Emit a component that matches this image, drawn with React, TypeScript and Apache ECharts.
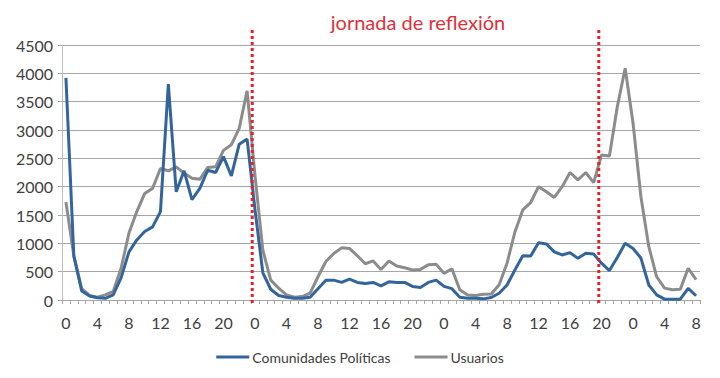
import React, { useEffect, useRef } from "react";
import * as echarts from "echarts";

const hours = [
  "0","1","2","3","4","5","6","7","8","9","10","11","12","13","14","15","16","17","18","19","20","21","22","23",
  "0","1","2","3","4","5","6","7","8","9","10","11","12","13","14","15","16","17","18","19","20","21","22","23",
  "0","1","2","3","4","5","6","7","8","9","10","11","12","13","14","15","16","17","18","19","20","21","22","23",
  "0","1","2","3","4","5","6","7","8",
];

const comunidades = [
  3920, 780, 160, 70, 40, 30, 90, 390, 850, 1060, 1210, 1290, 1560, 3810, 1910, 2280, 1770, 1970, 2290, 2250, 2530, 2190, 2750, 2840,
  1600, 480, 190, 80, 50, 30, 30, 50, 200, 350, 350, 310, 370, 310, 290, 310, 250, 320, 310, 310, 240, 220, 310, 350,
  240, 200, 50, 30, 30, 20, 45, 120, 265, 530, 780, 775, 1010, 990, 850, 795, 835, 735, 825, 810, 650, 520, 750, 1000,
  910, 740, 265, 90, 15, 15, 15, 205, 75,
];

const usuarios = [
  1730, 780, 200, 80, 50, 90, 150, 560, 1180, 1560, 1880, 1970, 2320, 2280, 2350, 2240, 2150, 2130, 2340, 2350, 2640, 2740, 3030, 3690,
  2200, 880, 350, 210, 90, 50, 60, 120, 410, 680, 820, 920, 910, 780, 640, 690, 540, 690, 600, 570, 530, 540, 620, 630,
  470, 550, 180, 90, 80, 100, 105, 270, 650, 1200, 1590, 1720, 2000, 1910, 1810, 2000, 2250, 2120, 2250, 2070, 2560, 2540, 3410, 4090,
  3120, 1820, 940, 410, 210, 180, 190, 560, 360,
];

const markerIdx = [24, 68];
const seriesNames = ["Comunidades Políticas", "Usuarios"];
const annotation = "jornada de reflexión";

const FONT = "Lato, 'Open Sans', sans-serif";

export default function App() {
  const ref = useRef<HTMLDivElement>(null);
  useEffect(() => {
    const chart = echarts.init(ref.current!, null, { renderer: "svg" });
    chart.setOption({
      animation: false,
      backgroundColor: "#ffffff",
      textStyle: { fontFamily: FONT },
      grid: { left: 62, right: 20, top: 45, bottom: 78, containLabel: false },
      legend: {
        data: seriesNames,
        bottom: 9,
        left: "center",
        icon: "rect",
        itemWidth: 33,
        itemHeight: 3,
        itemGap: 24,
        textStyle: { fontFamily: FONT, fontSize: 14, color: "#404040", padding: [0, 0, 0, -2] },
      },
      xAxis: {
        type: "category",
        data: hours,
        boundaryGap: true,
        axisLine: { show: true, lineStyle: { color: "#a6a6a6", width: 1 } },
        axisTick: { show: true, interval: 0, length: 4, lineStyle: { color: "#a6a6a6" } },
        axisLabel: { interval: 3, margin: 14, fontSize: 16, color: "#404040", fontFamily: FONT },
        splitLine: { show: false },
      },
      yAxis: {
        type: "value",
        min: 0,
        max: 4500,
        interval: 500,
        axisLine: { show: true, lineStyle: { color: "#bfbfbf", width: 1 } },
        axisTick: { show: true, length: 4, lineStyle: { color: "#a6a6a6" } },
        axisLabel: {
          margin: 9,
          fontSize: 16,
          color: "#404040",
          fontFamily: FONT,
          formatter: (v: number) => String(v),
        },
        splitLine: { show: true, lineStyle: { color: "#a6a6a6", width: 1 } },
      },
      graphic: [
        {
          type: "text",
          x: 418,
          y: 22,
          style: {
            text: annotation,
            fill: "#e0303a",
            font: `20px ${FONT}`,
            textAlign: "center",
            textVerticalAlign: "middle",
          },
        },
      ],
      series: [
        {
          name: seriesNames[1],
          type: "line",
          data: usuarios,
          symbol: "none",
          lineStyle: { color: "#8c8c8c", width: 3 },
          itemStyle: { color: "#8c8c8c" },
          z: 2,
        },
        {
          name: seriesNames[0],
          type: "line",
          data: comunidades,
          symbol: "none",
          lineStyle: { color: "#33659c", width: 3 },
          itemStyle: { color: "#33659c" },
          z: 3,
        },
        {
          name: "marcas",
          type: "custom",
          z: 5,
          clip: false,
          data: markerIdx.map((i) => [i, 0]),
          encode: { x: 0, y: 1 },
          renderItem: (params: any, api: any) => {
            const p = api.coord([api.value(0), 0]);
            const bw = api.size([1, 0])[0];
            const x = p[0] - bw * 0.35;
            return {
              type: "line",
              shape: { x1: x, y1: p[1] + 3, x2: x, y2: 28 },
              style: { stroke: "#e8202a", lineWidth: 3, lineDash: [3, 3] },
            };
          },
        },
      ],
    });
    return () => chart.dispose();
  }, []);
  return <div ref={ref} style={{ position: "absolute", left: 0, top: 0, width: 720, height: 378 }} />;
}
